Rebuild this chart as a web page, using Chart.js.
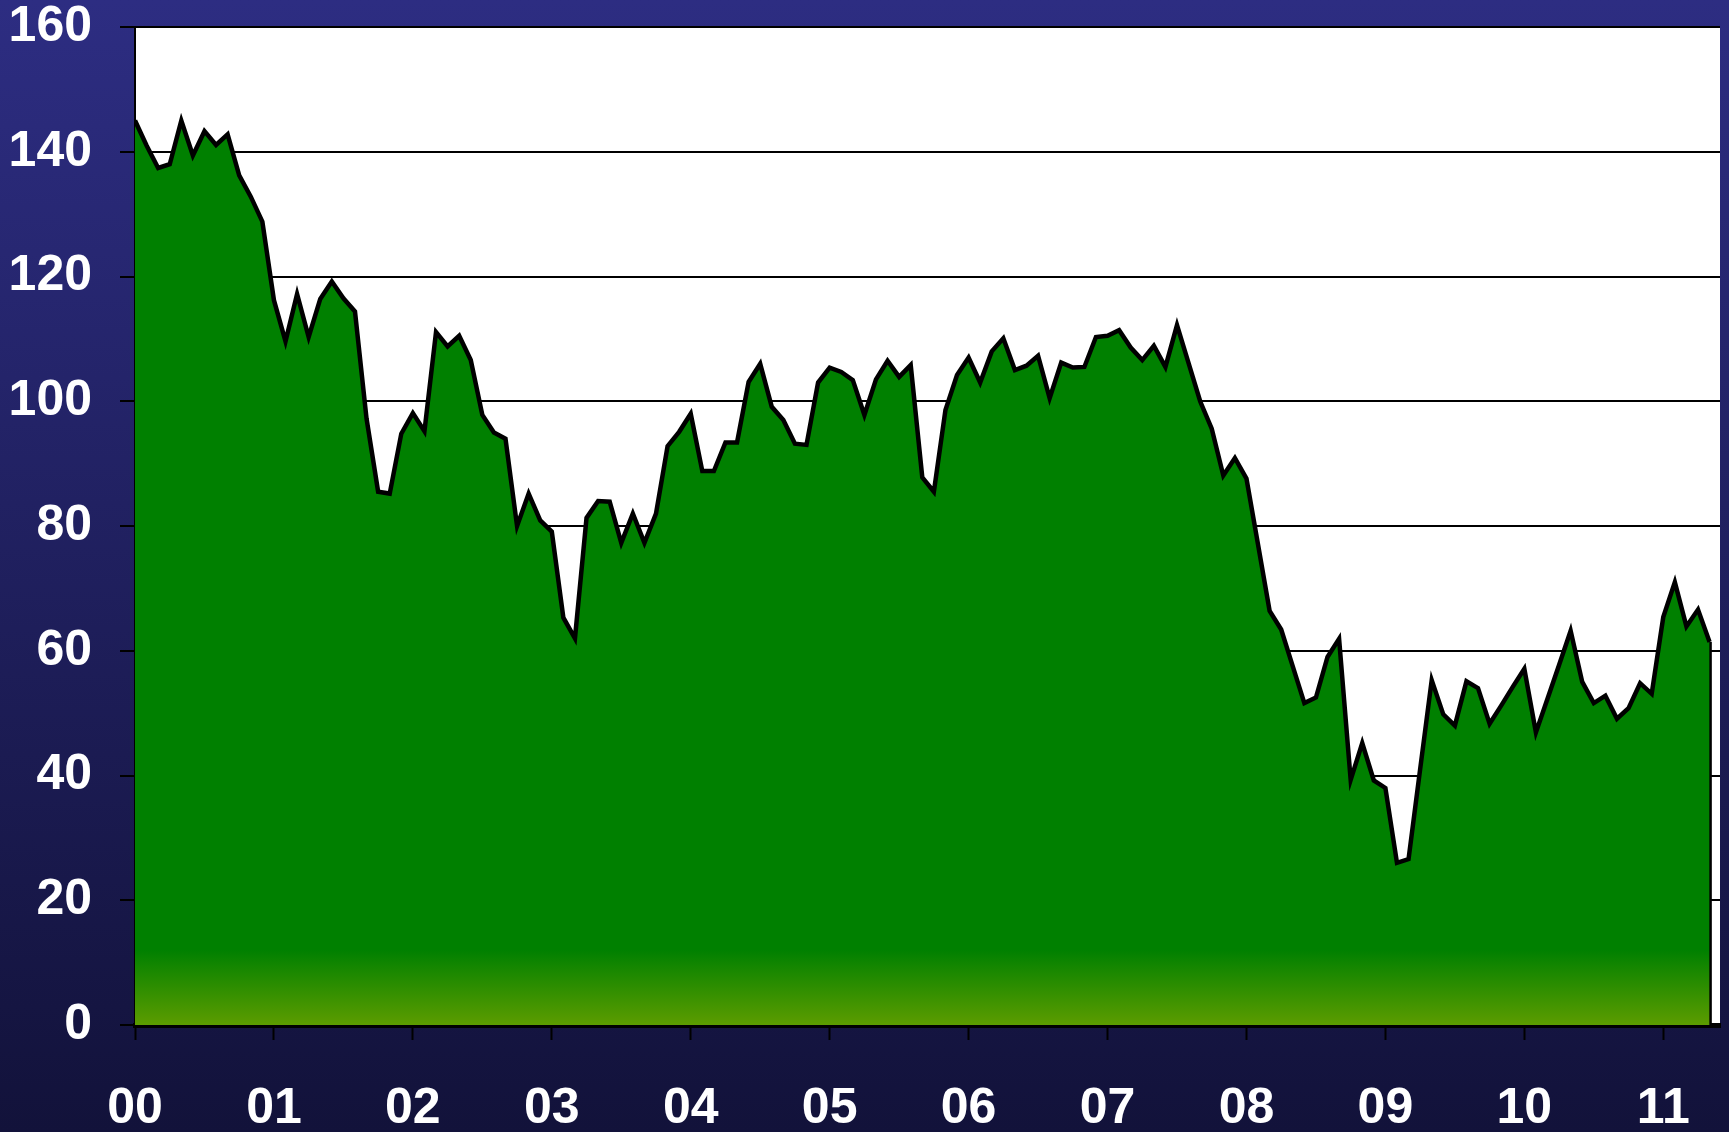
<!DOCTYPE html>
<html>
<head>
  <title>Monthly index 2000-2011</title>
  <script src="https://cdn.jsdelivr.net/npm/chart.js@4.4.0/dist/chart.umd.min.js"></script>
  <style>
    body { margin: 0; background: #14143a; }
  </style>
</head>
<body>
  <canvas id="areaChart" width="1729" height="1132"></canvas>

  <script>
    // year labels on the x axis, one tick every 12 months starting Jan 2000
    const yearLabels = ['00', '01', '02', '03', '04', '05', '06', '07', '08', '09', '10', '11'];
    const monthsPerYear = 12;

    // monthly values, Jan 2000 .. May 2011
    const values = [
      145.0, 141.0, 137.4, 138.0, 145.0, 139.4, 143.3, 141.1, 142.8, 136.2, 132.8, 128.8,
      116.2, 109.6, 117.2, 110.3, 116.4, 119.2, 116.5, 114.4, 97.2, 85.5, 85.2, 94.8,
      98.1, 95.2, 111.1, 108.8, 110.5, 106.6, 97.8, 95.0, 94.0, 80.0, 85.2, 80.9,
      79.1, 65.3, 62.0, 81.3, 84.0, 83.9, 77.3, 82.0, 77.3, 82.0, 92.8, 95.1,
      98.0, 88.8, 88.8, 93.4, 93.4, 103.1, 106.0, 99.1, 97.0, 93.2, 93.0, 103.0,
      105.4, 104.7, 103.4, 97.8, 103.5, 106.5, 103.9, 105.8, 87.8, 85.5, 98.6, 104.2,
      107.0, 103.0, 108.0, 110.1, 105.0, 105.7, 107.3, 100.5, 106.2, 105.4, 105.5, 110.3,
      110.5, 111.4, 108.6, 106.6, 108.9, 105.5, 112.2, 106.1, 100.0, 95.6, 88.1, 90.9,
      87.6, 77.0, 66.4, 63.4, 57.5, 51.6, 52.5, 59.0, 61.9, 39.3, 45.2, 39.2,
      38.0, 26.0, 26.6, 41.0, 55.3, 49.8, 48.0, 55.1, 54.0, 48.3, 51.2, 54.2,
      57.1, 46.9, 52.3, 57.7, 63.2, 55.0, 51.6, 52.8, 49.1, 50.8, 54.8, 53.1,
      65.4, 71.0, 63.9, 66.6, 61.4
    ];

    const yTicks = [0, 20, 40, 60, 80, 100, 120, 140, 160];

    const points = values.map((v, i) => ({ x: i, y: v }));
    const last = points[points.length - 1];

    const tickFont = { family: "'Liberation Sans', Arial, sans-serif", weight: 'bold', size: 50 };

    // dark blue page background and white plot area
    const backdrop = {
      id: 'backdrop',
      beforeDraw(chart) {
        const { ctx, chartArea, width, height } = chart;
        ctx.save();
        const g = ctx.createLinearGradient(0, 0, 0, height);
        g.addColorStop(0, '#2d2d82');
        g.addColorStop(1, '#12123a');
        ctx.fillStyle = g;
        ctx.fillRect(0, 0, width, height);
        ctx.fillStyle = '#ffffff';
        ctx.fillRect(chartArea.left, chartArea.top, chartArea.right - chartArea.left, chartArea.bottom - chartArea.top);
        ctx.restore();
      }
    };

    function areaFill(context) {
      const area = context.chart.chartArea;
      if (!area) return '#008000';
      const g = context.chart.ctx.createLinearGradient(0, area.bottom - 75, 0, area.bottom);
      g.addColorStop(0, '#008000');
      g.addColorStop(1, '#5c9c00');
      return g;
    }

    const ctx = document.getElementById('areaChart').getContext('2d');
    new Chart(ctx, {
      type: 'line',
      data: {
        datasets: [
          {
            data: points,
            borderColor: '#000000',
            borderWidth: 4.5,
            backgroundColor: areaFill,
            fill: 'origin',
            pointRadius: 0,
            tension: 0
          },
          {
            // closing edge of the area at the last month
            data: [{ x: last.x, y: last.y }, { x: last.x, y: 0 }],
            borderColor: '#000000',
            borderWidth: 4.5,
            fill: false,
            pointRadius: 0
          }
        ]
      },
      options: {
        responsive: false,
        devicePixelRatio: 1,
        animation: false,
        layout: { padding: { top: 27, right: 9, left: 0, bottom: 0 } },
        plugins: {
          legend: { display: false },
          tooltip: { enabled: false }
        },
        scales: {
          x: {
            type: 'linear',
            min: 0,
            max: 136.9,
            afterFit(axis) {
              axis.height = 107;
              axis.paddingLeft = 0;
              axis.paddingRight = 0;
            },
            afterBuildTicks(axis) {
              axis.ticks = yearLabels.map((_, k) => ({ value: k * monthsPerYear }));
            },
            ticks: {
              color: '#ffffff',
              font: tickFont,
              padding: 39,
              maxRotation: 0,
              autoSkip: false,
              callback: (value) => yearLabels[Math.round(value / monthsPerYear)]
            },
            grid: {
              drawOnChartArea: false,
              drawTicks: true,
              tickLength: 15,
              tickColor: '#000000',
              tickWidth: 2
            },
            border: { display: true, color: '#000000', width: 5 }
          },
          y: {
            min: 0,
            max: 160,
            afterFit(axis) {
              axis.width = 135;
              axis.paddingTop = 0;
              axis.paddingBottom = 0;
            },
            afterBuildTicks(axis) {
              axis.ticks = yTicks.map(v => ({ value: v }));
            },
            ticks: {
              color: '#ffffff',
              font: tickFont,
              padding: 28
            },
            grid: {
              color: '#000000',
              lineWidth: (c) => (c.tick && c.tick.value === 0 ? 0 : 2),
              drawTicks: true,
              tickLength: 15,
              tickColor: '#000000',
              tickWidth: 2
            },
            border: { display: true, color: '#000000', width: 2 }
          }
        }
      },
      plugins: [backdrop]
    });
  </script>
</body>
</html>
